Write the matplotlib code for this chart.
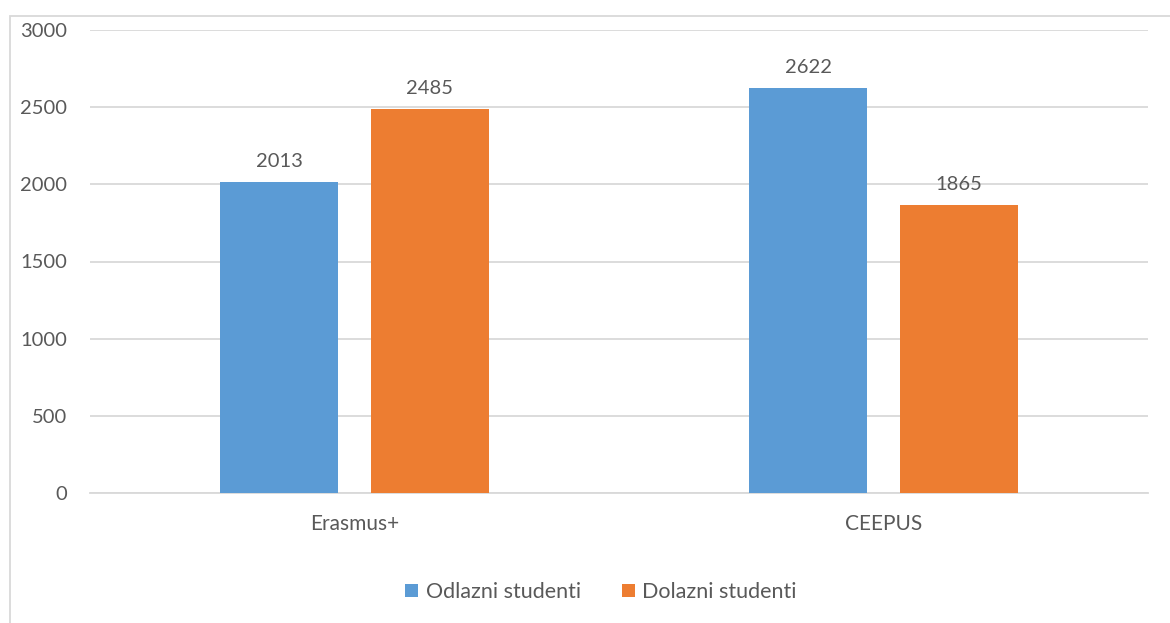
import matplotlib.pyplot as plt
import numpy as np
from matplotlib.patches import Rectangle

categories = ['Erasmus+', 'CEEPUS']
odlazni = [2013, 2622]
dolazni = [2485, 1865]
series_names = ['Odlazni studenti', 'Dolazni studenti']
yticks = [0, 500, 1000, 1500, 2000, 2500, 3000]

BLUE = '#5B9BD5'
ORANGE = '#ED7D31'
INK = '#595959'
GRID = '#D9D9D9'

plt.rcParams['font.family'] = ['Lato', 'DejaVu Sans']

fig = plt.figure(figsize=(11.7, 6.23), dpi=100)
ax = fig.add_axes([90 / 1170, 1 - 493 / 623, (1148 - 90) / 1170, (493 - 30) / 623])

# chart frame (cropped on the right and bottom)
fig.patches.append(Rectangle((10 / 1170, -0.1), 1.2, 1 - 16 / 623 + 0.1,
                             transform=fig.transFigure, fill=False,
                             edgecolor=GRID, linewidth=1.3))

x = np.arange(len(categories))
w = 0.223
off = 0.142
b1 = ax.bar(x - off, odlazni, w, color=BLUE, label=series_names[0], zorder=3)
b2 = ax.bar(x + off, dolazni, w, color=ORANGE, label=series_names[1], zorder=3)

for bars in (b1, b2):
    for r in bars:
        ax.annotate(f'{r.get_height():.0f}', xy=(r.get_x() + r.get_width() / 2, r.get_height()),
                    xytext=(0, 9), textcoords='offset points', ha='center', va='bottom',
                    fontsize=14.5, color=INK)

ax.set_xlim(-0.5, 1.5)
ax.set_ylim(0, 3000)
ax.set_yticks(yticks)
ax.set_xticks(x, categories)
ax.yaxis.grid(True, color=GRID, linewidth=1.3, zorder=0)
ax.set_axisbelow(True)
for s in ('top', 'right', 'left'):
    ax.spines[s].set_visible(False)
ax.spines['bottom'].set_color(GRID)
ax.spines['bottom'].set_linewidth(1.3)
ax.tick_params(axis='both', length=0, labelsize=14.5, colors=INK)
ax.tick_params(axis='y', pad=16.5)
ax.tick_params(axis='x', pad=15)
for t in ax.get_xticklabels():
    t.set_fontsize(15)

fig.legend(handles=[b1, b2], loc='center', bbox_to_anchor=(601 / 1170, 1 - 592 / 623),
           ncol=2, frameon=False, fontsize=15.5, labelcolor=INK, handlelength=0.6,
           handleheight=0.6, handletextpad=0.35, columnspacing=1.9)

fig.savefig('out.png', dpi=100, facecolor='white')
